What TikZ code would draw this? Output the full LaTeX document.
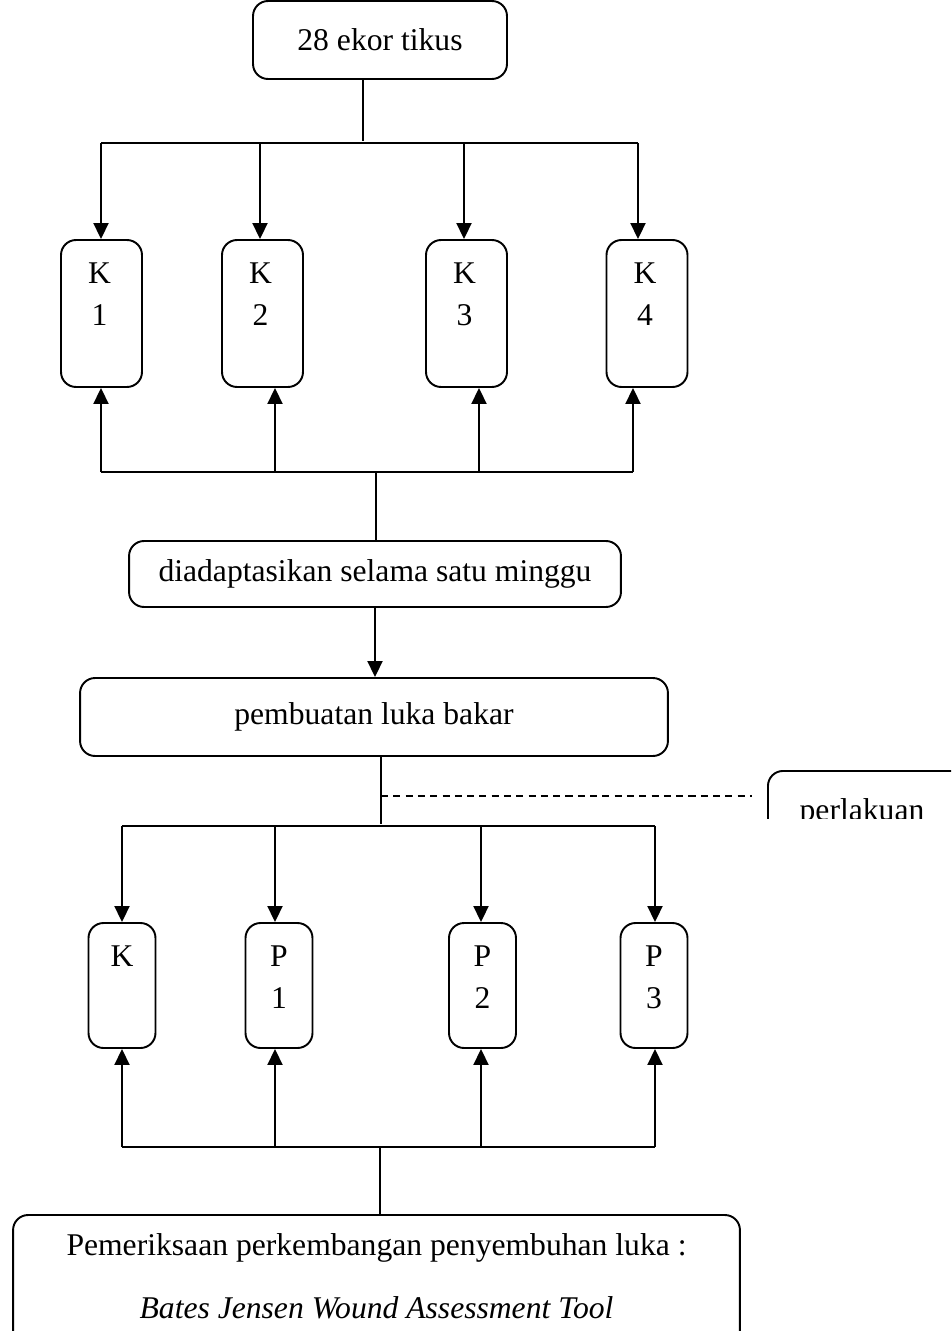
\documentclass[tikz,border=0pt]{standalone}
\usepackage{fontspec}
\setmainfont{Liberation Serif}
\usetikzlibrary{arrows.meta}

\begin{document}
\begin{tikzpicture}[x=0.02cm, y=-0.02cm, line width=1.1pt,
    font=\fontsize{18}{22}\selectfont,
    bx/.style={draw, rounded corners=0.3cm, inner sep=0pt},
    grp/.style={bx, minimum width=1.62cm, minimum height=2.94cm},
    sub/.style={bx, minimum width=1.34cm, minimum height=2.5cm},
    arr/.style={-{Triangle[length=0.32cm,width=0.3cm]}}]
%      \draw [help lines] (0, 0) grid (951, 1331);
      \useasboundingbox (0,0) rectangle (951,1331);
      \node [bx, minimum width=5.08cm, minimum height=1.56cm] (tikus) at (380,40) {28 ekor tikus};
      \draw (363,79) -- (363,141);
      \draw (101,143) -- (638,143);
      %% first row: K1 .. K4
      \foreach \n/\cx/\dx/\ux in {1/101.5/101/101, 2/262.5/260/275, 3/466.5/464/479, 4/647/638/633} {
        \node [grp] (k\n) at (\cx,313.5) {};
        \node (k\n a) at (\cx-2,273) {K};
        \node (k\n b) at (\cx-2,315) {\n};
        \draw [arr] (\dx,143) -- (\dx,0 |- k\n.north);
        \draw [arr] (\ux,472) -- (\ux,0 |- k\n.south);
      }
      \draw (101,472) -- (633,472);
      \node [bx, minimum width=9.84cm, minimum height=1.32cm] (adapt) at (375,574) {diadaptasikan selama satu minggu};
      \draw (376,472) -- (376,0 |- adapt.north);
      \node [bx, minimum width=11.76cm, minimum height=1.56cm] (bakar) at (374,717) {pembuatan luka bakar};
      \draw [arr] (375,0 |- adapt.south) -- (375,0 |- bakar.north);
      \draw (381,0 |- bakar.south) -- (381,824);
      %% the perlakuan box is cut off at the edge
      \begin{scope}
        \clip (700,700) rectangle (951,818);
        \node [bx, anchor=north west, minimum width=4cm, minimum height=1.6cm] (lakuan) at (767,770) {};
        \node [anchor=base] (lakuant) at (862,820) {perlakuan};
      \end{scope}
      \draw [dash pattern=on 4pt off 3pt] (381,796) -- (752,796);
      \draw (122,826) -- (655,826);
      %% second row: K, P1 .. P3
      \foreach \n/\t/\b/\cx in {0/K//122, 1/P/1/279, 2/P/2/482.5, 3/P/3/654} {
        \node [sub] (p\n) at (\cx,985.5) {};
        \node (p\n a) at (\cx,956) {\t};
        \node (p\n b) at (\cx,998) {\b};
      }
      \foreach \n/\x in {0/122, 1/275, 2/481, 3/655} {
        \draw [arr] (\x,826) -- (\x,0 |- p\n.north);
        \draw [arr] (\x,1147) -- (\x,0 |- p\n.south);
      }
      \draw (122,1147) -- (655,1147);
      \node [bx, minimum width=14.54cm, minimum height=2.8cm] (periksa) at (376.5,1285) {};
      \draw (380,1147) -- (380,0 |- periksa.north);
      \node (periksa a) at (376.5,1248) {Pemeriksaan perkembangan penyembuhan luka :};
      \node (periksa b) at (376.5,1308) {\itshape Bates Jensen Wound Assessment Tool};
\end{tikzpicture}
\end{document}
